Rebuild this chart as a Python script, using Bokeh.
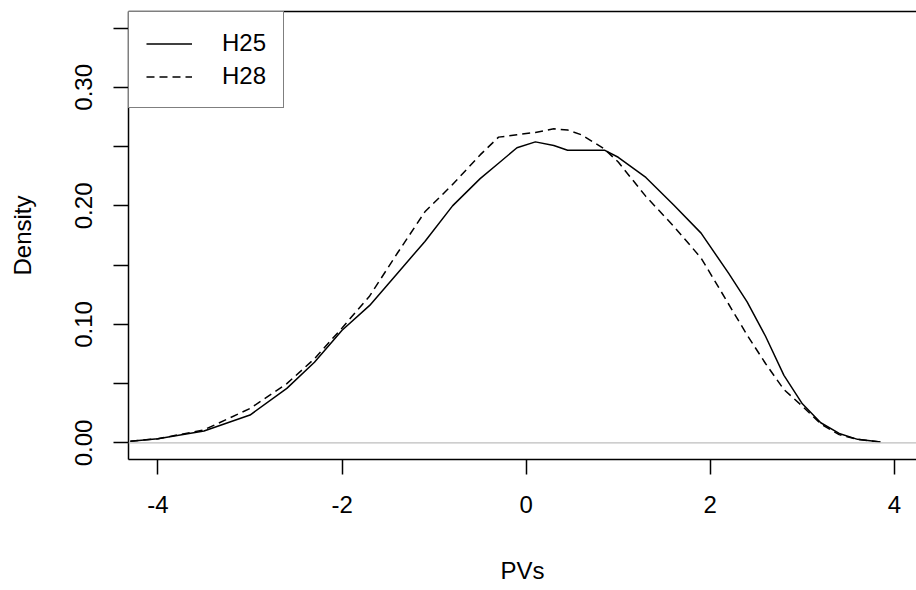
from bokeh.plotting import figure
from bokeh.models import (ColumnDataSource, Range1d, FixedTicker, PrintfTickFormatter,
                          Span, Legend, LegendItem, LinearAxis)
from bokeh.embed import file_html
from bokeh.resources import INLINE

# ---- data ----
pvs = [-4.3, -4.0, -3.5, -3.0, -2.6, -2.3, -2.0, -1.7, -1.4, -1.1, -0.8, -0.5,
       -0.3, -0.1, 0.1, 0.3, 0.45, 0.6, 0.85, 1.0, 1.3, 1.6, 1.9, 2.2, 2.4,
       2.6, 2.8, 3.0, 3.2, 3.4, 3.6, 3.85]
h25 = [0.0015, 0.0035, 0.010, 0.0235, 0.046, 0.068, 0.095, 0.116, 0.143, 0.170,
       0.200, 0.223, 0.236, 0.249, 0.254, 0.251, 0.247, 0.247, 0.247, 0.241,
       0.224, 0.201, 0.177, 0.143, 0.119, 0.090, 0.057, 0.033, 0.017, 0.008,
       0.003, 0.0008]
h28 = [0.0015, 0.0035, 0.011, 0.029, 0.050, 0.071, 0.097, 0.124, 0.160, 0.195,
       0.218, 0.243, 0.258, 0.260, 0.262, 0.265, 0.264, 0.260, 0.248, 0.237,
       0.208, 0.183, 0.156, 0.117, 0.091, 0.067, 0.045, 0.031, 0.016, 0.007,
       0.003, 0.0008]
series_names = ["H25", "H28"]
x_ticks = [-4, -2, 0, 2, 4]
y_ticks = [0.0, 0.1, 0.2, 0.3]
y_minor = [0.05, 0.15, 0.25, 0.35]

FONT = "Liberation Sans"
FS = "24px"

src = ColumnDataSource(dict(x=pvs, h25=h25, h28=h28))

p = figure(width=916, height=590, output_backend="svg", toolbar_location=None,
           x_range=Range1d(-4.32, 4.24), y_range=Range1d(-0.014, 0.364),
           min_border_left=128, min_border_right=0, min_border_top=11,
           min_border_bottom=131, x_axis_label="PVs", y_axis_label="Density")
p.outline_line_color = None
p.grid.grid_line_color = None
p.background_fill_color = "white"
p.border_fill_color = "white"

zero = Span(location=0, dimension="width", line_color="#bebebe", line_width=1.2)
p.add_layout(zero)

r1 = p.line("x", "h25", source=src, line_color="black", line_width=1.5)
r2 = p.line("x", "h28", source=src, line_color="black", line_width=1.5,
            line_dash="8 5")

# axes
xa = p.xaxis[0]
xa.ticker = FixedTicker(ticks=x_ticks)
xa.formatter = PrintfTickFormatter(format="%d")
ya = p.yaxis[0]
ya.ticker = FixedTicker(ticks=y_ticks, minor_ticks=y_minor)
ya.formatter = PrintfTickFormatter(format="%.2f")
ya.major_label_orientation = "vertical"
for ax in (xa, ya):
    ax.axis_line_color = "black"
    ax.axis_line_width = 1.5
    ax.major_tick_line_color = "black"
    ax.major_tick_line_width = 1.5
    ax.major_tick_out = 15
    ax.major_tick_in = 0
    ax.major_label_text_font = FONT
    ax.major_label_text_font_size = FS
    ax.major_label_text_color = "black"
    ax.axis_label_text_font = FONT
    ax.axis_label_text_font_size = FS
    ax.axis_label_text_font_style = "normal"
    ax.axis_label_text_color = "black"
xa.minor_tick_line_color = None
ya.minor_tick_line_color = "black"
ya.minor_tick_line_width = 1.5
ya.minor_tick_out = 15
ya.minor_tick_in = 0
xa.major_label_standoff = 21
xa.axis_label_standoff = 41
ya.major_label_standoff = 21
ya.axis_label_standoff = 37

top = LinearAxis(ticker=FixedTicker(ticks=[]), axis_line_color="black",
                 axis_line_width=1.5, major_tick_line_color=None,
                 minor_tick_line_color=None, major_label_text_font_size="0px",
                 major_label_standoff=0, axis_label=None)
p.add_layout(top, "above")

legend = Legend(items=[LegendItem(label=series_names[0], renderers=[r1]),
                       LegendItem(label=series_names[1], renderers=[r2])],
                location="top_left", margin=0, padding=17, spacing=5,
                glyph_width=46, glyph_height=27, label_height=27,
                label_standoff=30, label_text_font=FONT,
                label_text_font_size=FS, label_text_color="black",
                border_line_color="black", border_line_width=1.5,
                background_fill_color="white", background_fill_alpha=1.0)
p.add_layout(legend)

open("out.html", "w").write(file_html(p, INLINE))
